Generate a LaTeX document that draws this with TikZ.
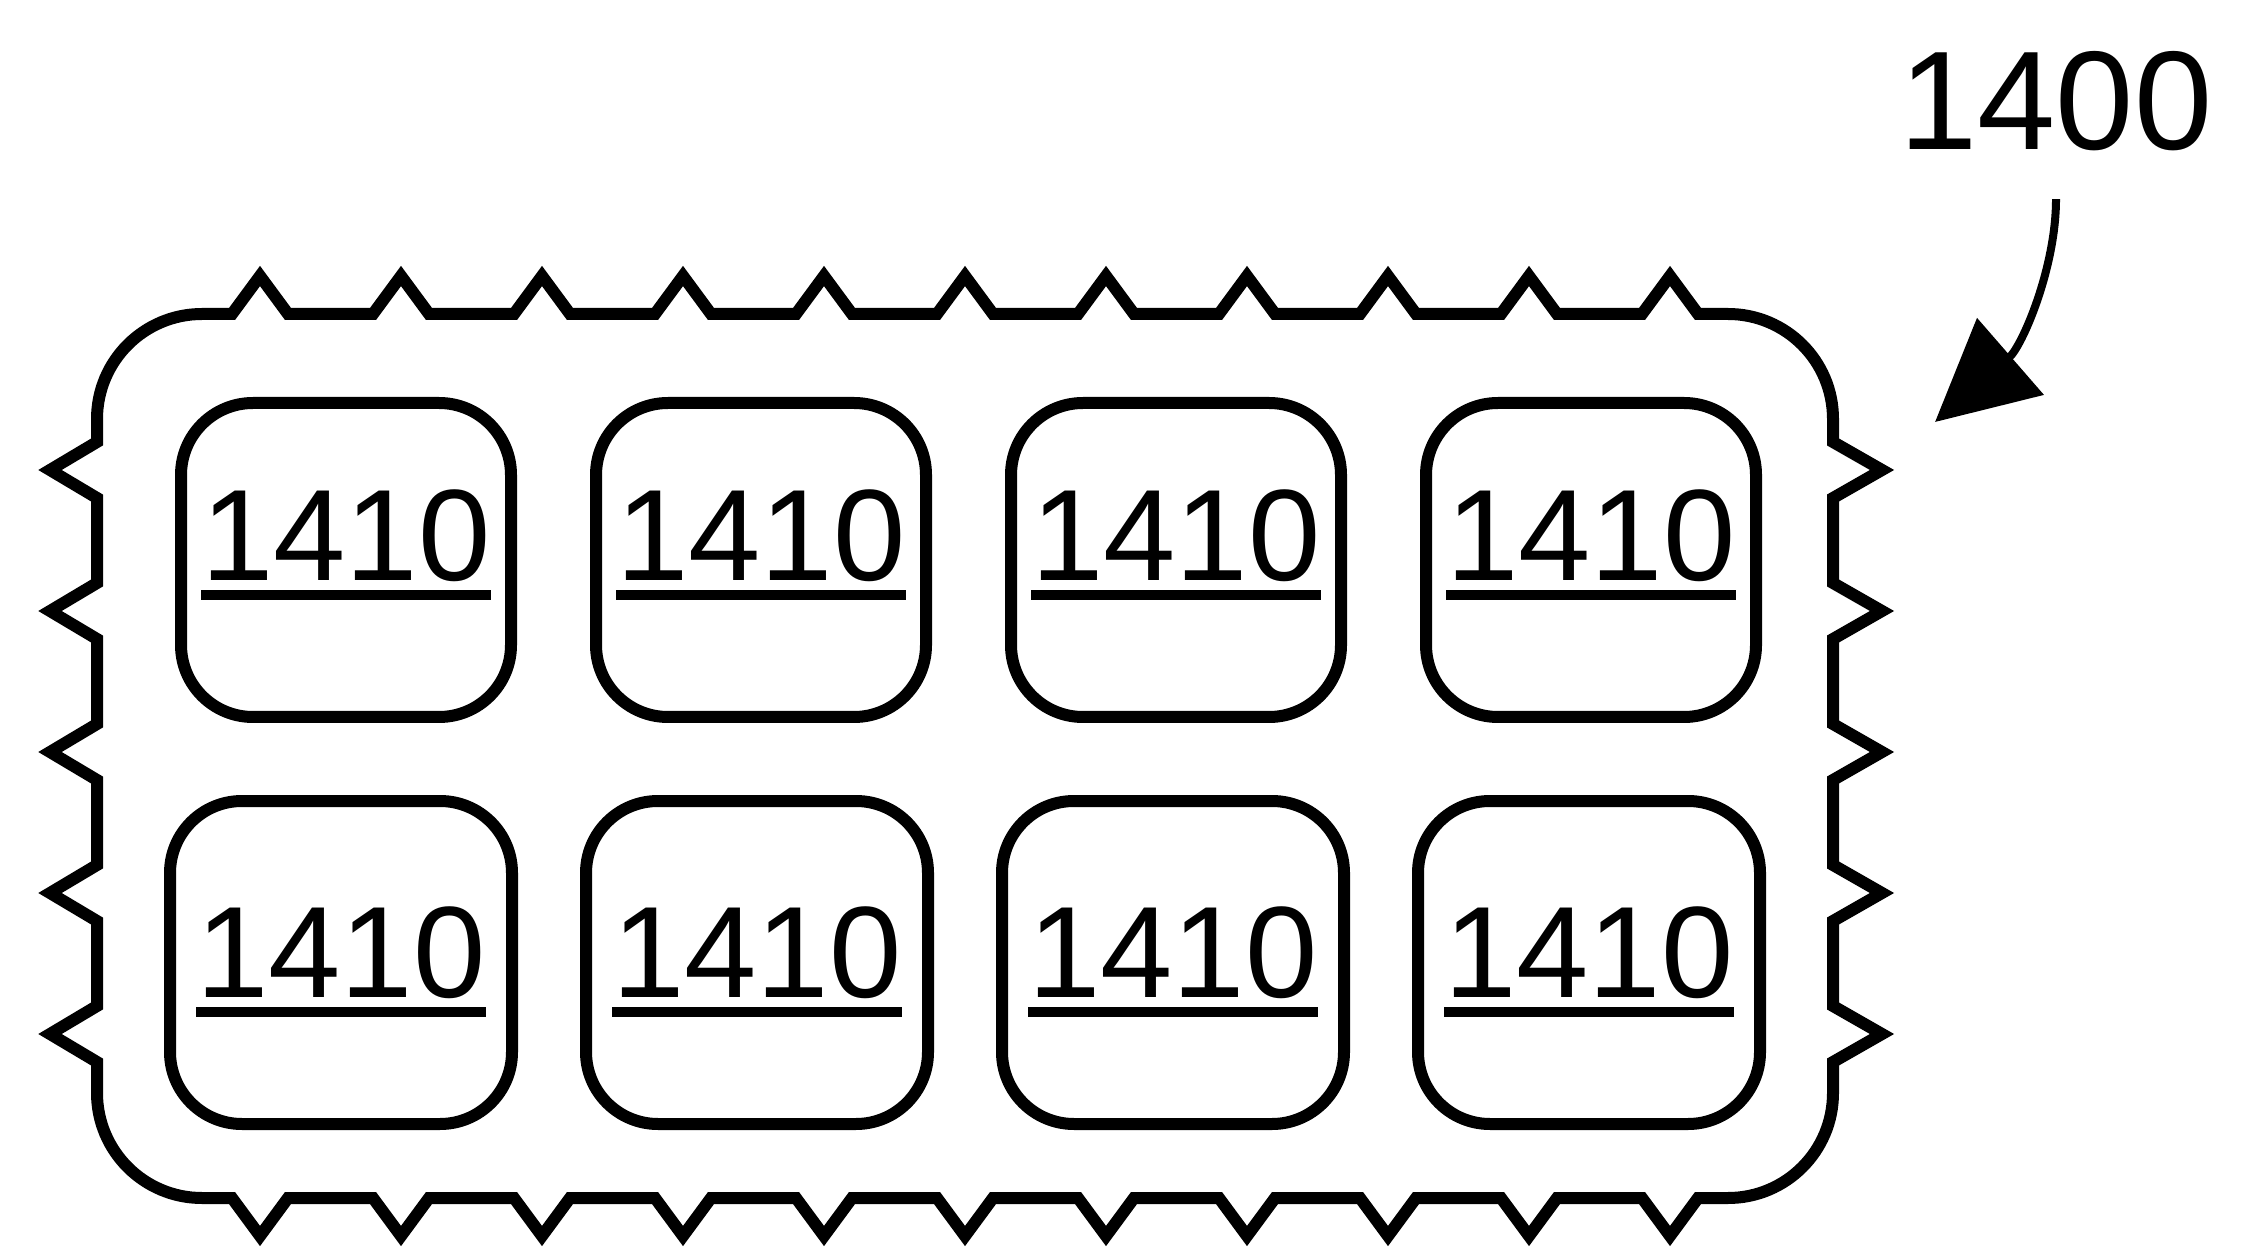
\documentclass[tikz,border=0pt]{standalone}
\usepackage{fontspec}
\setmainfont{Liberation Sans}
\usetikzlibrary{arrows.meta, positioning}

\newcommand{\refno}[1]{\setbox0=\hbox{#1}\rlap{\rule[-0.19cm]{\wd0}{0.1cm}}\box0}

\begin{document}
\begin{tikzpicture}[
    cell/.style={rectangle, rounded corners=0.72cm, draw, line width=0.12cm, outer sep=0pt, inner sep=0pt,
                 minimum width=3.30cm, minimum height=3.14cm, text height=0.92cm, text depth=0.50cm,
                 font=\fontsize{37}{40}\selectfont},
    lowcell/.style={cell, minimum width=3.42cm, minimum height=3.23cm, text depth=0.22cm},
    outline/.style={draw, line width=0.12cm},
    pointer/.style={-{Triangle[length=1cm, width=1cm]}, line width=0.08cm},
    tag/.style={font=\fontsize{40}{44}\selectfont, inner sep=0pt, anchor=base}
]
\useasboundingbox (0,0) rectangle (22.63,12.58);

% toothed carrier outline
\draw[outline] (2.02,9.44)
    foreach \k in {0,...,10} {-- (2.60+1.41*\k-0.28,9.44) -- (2.60+1.41*\k,9.82) -- (2.60+1.41*\k+0.28,9.44)}
    -- (17.28,9.44) arc[start angle=90, end angle=0, radius=1.05cm]
    foreach \k in {4,3,...,0} {-- (18.33,2.24+1.41*\k+0.28) -- (18.82,2.24+1.41*\k) -- (18.33,2.24+1.41*\k-0.28)}
    -- (18.33,1.65) arc[start angle=0, end angle=-90, radius=1.05cm]
    foreach \k in {10,9,...,0} {-- (2.60+1.41*\k+0.28,0.60) -- (2.60+1.41*\k,0.22) -- (2.60+1.41*\k-0.28,0.60)}
    -- (2.02,0.60) arc[start angle=270, end angle=180, radius=1.05cm]
    foreach \k in {0,...,4} {-- (0.97,2.24+1.41*\k-0.28) -- (0.50,2.24+1.41*\k) -- (0.97,2.24+1.41*\k+0.28)}
    -- (0.97,8.39) arc[start angle=180, end angle=90, radius=1.05cm] -- cycle;

% top row
\node[cell] (top1) at (3.46,6.98) {\refno{1410}};
\node[cell, right=0.85cm of top1] (top2) {\refno{1410}};
\node[cell, right=0.85cm of top2] (top3) {\refno{1410}};
\node[cell, right=0.85cm of top3] (top4) {\refno{1410}};

% bottom row
\node[lowcell, below=0.84cm of top1, xshift=-0.05cm] (bot1) {\refno{1410}};
\node[lowcell, right=0.74cm of bot1] (bot2) {\refno{1410}};
\node[lowcell, right=0.74cm of bot2] (bot3) {\refno{1410}};
\node[lowcell, right=0.74cm of bot3] (bot4) {\refno{1410}};

\node[tag] (lbl1400) at (20.56,11.08) {1400};
\coordinate (tip1400) at (19.35,8.36);
\draw[pointer, shorten <=0.47cm] (lbl1400.south) to[out=-90, in=41] (tip1400);
\end{tikzpicture}
\end{document}
